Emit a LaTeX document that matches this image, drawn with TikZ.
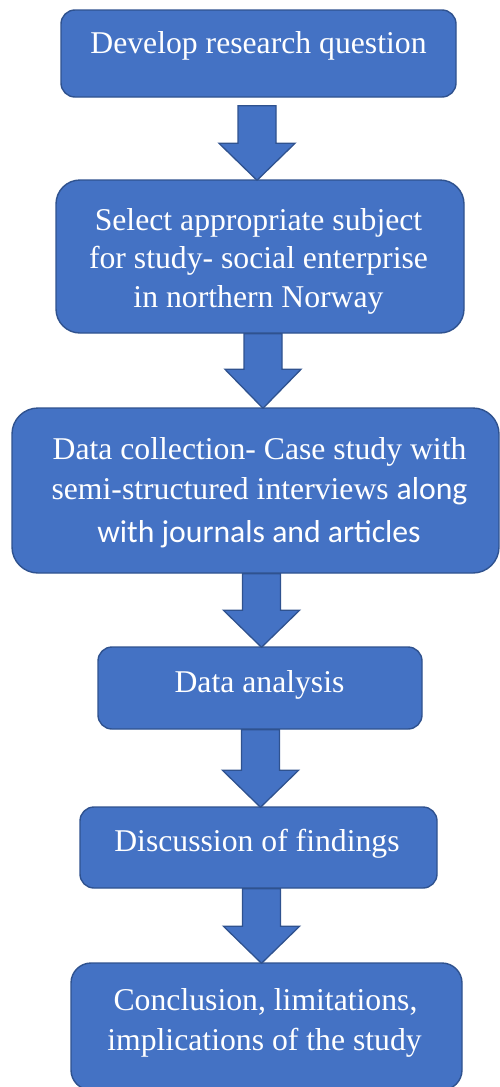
\documentclass[tikz,border=0pt]{standalone}
\usepackage{fontspec}
\setmainfont{Liberation Serif}
\newfontfamily\calfont{Carlito}
\usetikzlibrary{calc}
\definecolor{boxfill}{HTML}{4472C4}
\definecolor{boxline}{HTML}{2F528F}
\tikzset{
  box/.style={draw=boxline, fill=boxfill, line width=1.4pt, inner sep=0pt, rectangle},
  txt/.style={text=white, inner sep=0pt, anchor=base, font=\fontsize{31.7}{38}\selectfont},
  blockarr/.style={draw=boxline, fill=boxfill, line width=1.3pt, line join=miter}
}
\newcommand{\blockarrow}[5]{% from, to, xc, top offset, head length
  \draw[blockarr] let \p1=(#1.south), \p2=(#2.north) in
    (#3pt-19pt,\y1-#4pt) -- (#3pt+19pt,\y1-#4pt) -- (#3pt+19pt,\y2+#5pt)
    -- (#3pt+38pt,\y2+#5pt) -- (#3pt,\y2-1pt) -- (#3pt-38pt,\y2+#5pt)
    -- (#3pt-19pt,\y2+#5pt) -- cycle;
}
\begin{document}
\begin{tikzpicture}[x=1pt,y=-1pt]
\useasboundingbox (0,0) rectangle (500,1087);
\clip (0,0) rectangle (500,1087);
% boxes
\node[box, minimum width=395pt, minimum height=87pt, rounded corners=14pt] (b1) at (258.5,53.5) {};
\node[box, minimum width=408pt, minimum height=153pt, rounded corners=24pt] (b2) at (260,256.5) {};
\node[box, minimum width=487pt, minimum height=165pt, rounded corners=26pt] (b3) at (255.5,490.5) {};
\node[box, minimum width=324pt, minimum height=82pt, rounded corners=14pt] (b4) at (260,688) {};
\node[box, minimum width=357pt, minimum height=81pt, rounded corners=14pt] (b5) at (258.5,847.5) {};
\node[box, minimum width=391pt, minimum height=127pt, rounded corners=20pt] (b6) at (266.5,1026.5) {};
% arrows
\blockarrow{b1}{b2}{257}{8}{36}
\blockarrow{b2}{b3}{263}{0}{38}
\blockarrow{b3}{b4}{261.5}{0}{36}
\blockarrow{b4}{b5}{260.5}{0}{36}
\blockarrow{b5}{b6}{261.5}{0}{36}
% texts
\node[txt] (t1) at (258.5,53) {Develop research question};
\node[txt] (t2a) at (258.5,230) {Select appropriate subject};
\node[txt] (t2b) at (258.5,268) {for study- social enterprise};
\node[txt] (t2c) at (258.5,307) {in northern Norway};
\node[txt] (t3a) at (259.5,459) {Data collection- Case study with};
\node[txt] (t3b) at (259.5,499) {semi-structured interviews {\calfont along}};
\node[txt] (t3c) at (259,542) {\calfont with journals and articles};
\node[txt] (t4) at (259.5,692) {Data analysis};
\node[txt] (t5) at (257,851) {Discussion of findings};
\node[txt] (t6a) at (265.5,1010) {Conclusion, limitations,};
\node[txt] (t6b) at (264.5,1050) {implications of the study};
\end{tikzpicture}
\end{document}
